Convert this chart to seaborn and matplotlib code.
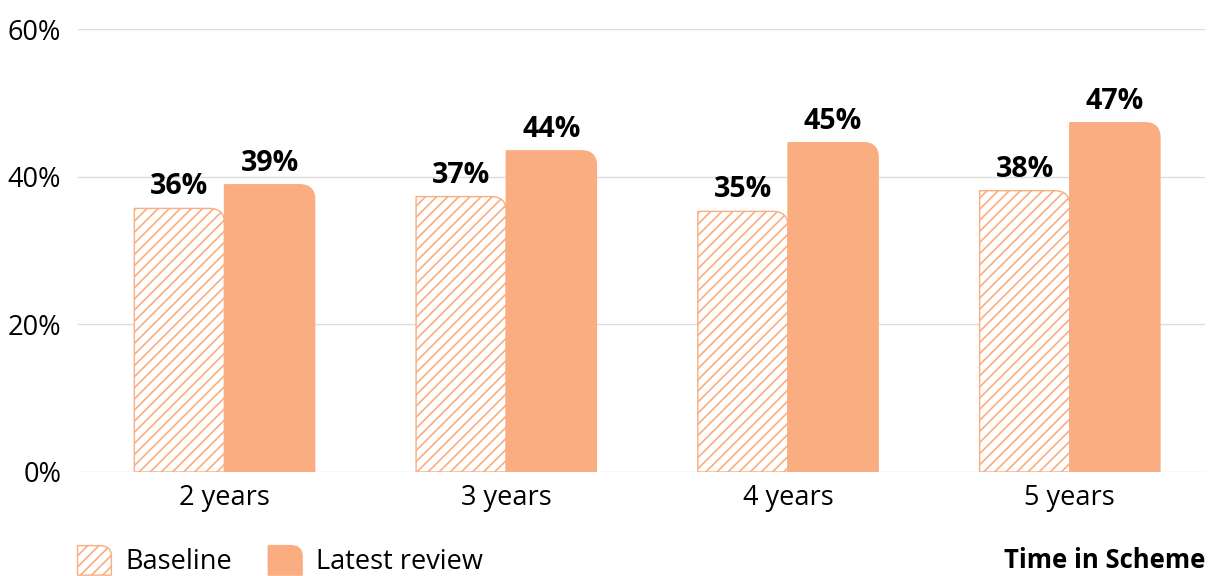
import matplotlib
matplotlib.use("Agg")
import matplotlib.pyplot as plt
from matplotlib.path import Path
from matplotlib.patches import PathPatch, Patch
from matplotlib.legend_handler import HandlerBase
import seaborn as sns
import pandas as pd

# data
categories = ["2 years", "3 years", "4 years", "5 years"]
baseline = [35.7, 37.3, 35.3, 38.1]
latest = [38.9, 43.5, 44.6, 47.3]
series_names = ["Baseline", "Latest review"]

ORANGE = "#F9AD80"

df = pd.DataFrame({
    "cat": categories * 2,
    "value": baseline + latest,
    "series": [series_names[0]] * 4 + [series_names[1]] * 4,
})

sns.set_style("white")
plt.rcParams["font.family"] = ["Open Sans", "DejaVu Sans"]
plt.rcParams["text.color"] = "black"
plt.rcParams["hatch.linewidth"] = 1.2


def rounded_top_right(x0, x1, y0, y1, rx, ry):
    verts = [(x0, y0), (x1, y0), (x1, y1 - ry), (x1, y1), (x1 - rx, y1),
             (x0, y1), (x0, y0)]
    codes = [Path.MOVETO, Path.LINETO, Path.LINETO, Path.CURVE3, Path.CURVE3,
             Path.LINETO, Path.CLOSEPOLY]
    return Path(verts, codes)


class RoundHandler(HandlerBase):
    def create_artists(self, legend, orig_handle, xdescent, ydescent,
                       width, height, fontsize, trans):
        x0, y0 = -xdescent, -ydescent
        p = rounded_top_right(x0, x0 + width, y0, y0 + height,
                              width * 0.35, height * 0.35)
        patch = PathPatch(p, facecolor=orig_handle.get_facecolor(),
                          edgecolor=ORANGE, hatch=orig_handle.get_hatch(),
                          lw=1, transform=trans)
        return [patch]


fig = plt.figure(figsize=(12.13, 5.76), dpi=100)
ax = fig.add_axes([78 / 1213, 104 / 576, 1127 / 1213, 443 / 576])

sns.barplot(data=df, x="cat", y="value", hue="series", order=categories,
            hue_order=series_names, palette=[ORANGE, ORANGE], width=0.64,
            ax=ax, legend=False, errorbar=None)

ax.set_xlim(-0.52, 3.48)
ax.set_ylim(0, 60)

# replace bars with rounded-corner versions
rx = 15 / 282
ry = 15 / 148 * 20
for i, cont in enumerate(ax.containers):
    for bar in cont:
        x0 = bar.get_x()
        w = bar.get_width()
        h = bar.get_height()
        bar.set_visible(False)
        path = rounded_top_right(x0, x0 + w, 0, h, rx, ry)
        if i == 0:
            pp = PathPatch(path, facecolor="white", edgecolor=ORANGE,
                           hatch="///", lw=1, zorder=3)
        else:
            pp = PathPatch(path, facecolor=ORANGE, edgecolor=ORANGE,
                           lw=1, zorder=3)
        ax.add_patch(pp)
    ax.bar_label(cont, labels=[f"{round(b.get_height())}%" for b in cont],
                 padding=5, fontsize=20.5, fontweight="bold", color="black")

ax.set_yticks([0, 20, 40, 60])
ax.set_yticklabels(["0%", "20%", "40%", "60%"])
ax.yaxis.grid(True, color="#dddddd", lw=1)
ax.set_axisbelow(True)
for s in ax.spines.values():
    s.set_visible(False)
ax.tick_params(axis="both", length=0, labelsize=19.5, colors="black")
ax.tick_params(axis="x", pad=9)
ax.tick_params(axis="y", pad=12)
ax.set_xlabel("")
ax.set_ylabel("")

handles = [Patch(facecolor="white", hatch="///", label="Baseline"),
           Patch(facecolor=ORANGE, label="Latest review")]
fig.legend(handles=handles, handler_map={Patch: RoundHandler()},
           loc="center left", bbox_to_anchor=(64 / 1213, 1 - 561 / 576),
           ncol=2, frameon=False, fontsize=19.5, handlelength=1.25,
           handleheight=1.3, handletextpad=0.5, columnspacing=1.35,
           borderpad=0, labelcolor="black")

fig.text(1205 / 1213, 1 - 560 / 576, "Time in Scheme", ha="right",
         va="center", fontsize=18.5, fontweight="bold", color="black")

fig.savefig("out.png", dpi=100)
